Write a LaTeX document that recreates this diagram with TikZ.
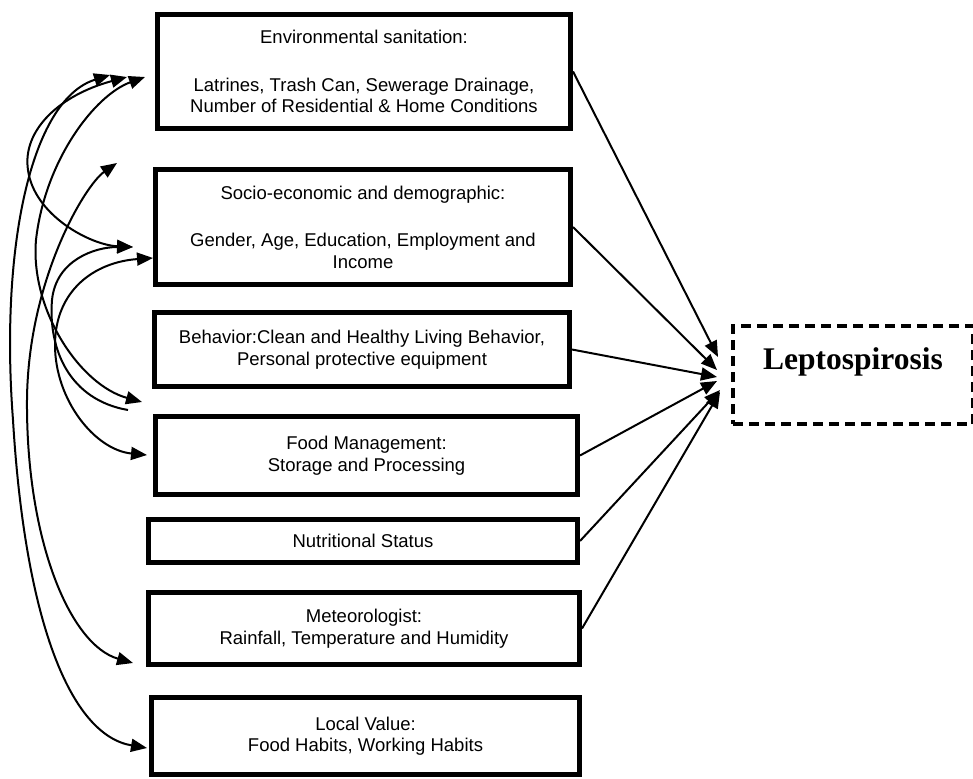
\documentclass[tikz,border=0pt]{standalone}
\usepackage{fontspec}
\setmainfont{Liberation Sans}
\newfontfamily\leptofont{Liberation Serif}
\usetikzlibrary{arrows.meta}

\begin{document}
\begin{tikzpicture}[x=1pt,y=-1pt,
  box/.style={draw, line width=5pt, inner sep=0pt, align=center,
    font=\fontsize{18.5}{21.5}\selectfont},
  link/.style={line width=2pt, -{Triangle[length=16pt,width=13pt]}},
  twoway/.style={line width=2pt,
    {Triangle[length=16pt,width=13pt]}-{Triangle[length=16pt,width=13pt]}}]
  \useasboundingbox (0,0) rectangle (973,778);

  % factor boxes
  \node[box, minimum width=413pt, minimum height=114pt] (env) at (364,71.5)
    {Environmental sanitation:\\[26pt] Latrines, Trash Can, Sewerage Drainage,\\ Number of Residential \& Home Conditions};
  \node[box, minimum width=415pt, minimum height=115pt] (soc) at (363,227)
    {Socio-economic and demographic:\\[26pt] Gender, Age, Education, Employment and\\ Income};
  \node[box, minimum width=415pt, minimum height=74pt] (beh) at (362,349.5)
    {Behavior:Clean and Healthy Living Behavior,\\ Personal protective equipment};
  \node[box, minimum width=422pt, minimum height=78pt] (food) at (366.5,455.5)
    {Food Management:\\ Storage and Processing};
  \node[box, minimum width=429pt, minimum height=43pt] (nut) at (363,541)
    {Nutritional Status};
  \node[box, minimum width=431pt, minimum height=72pt] (met) at (364,628.5)
    {Meteorologist:\\ Rainfall, Temperature and Humidity};
  \node[box, minimum width=428pt, minimum height=77pt] (loc) at (365.5,736)
    {Local Value:\\ Food Habits, Working Habits};

  % outcome
  \node[draw, line width=4pt, dash pattern=on 10pt off 6pt, inner sep=0pt,
    minimum width=240pt, minimum height=98pt, text height=43pt, text depth=55pt,
    font=\leptofont\bfseries\fontsize{31.5}{36}\selectfont] (lepto) at (853,375) {Leptospirosis};

  % arrow ends on the left
  \coordinate (ea) at (110,75);
  \coordinate (eb) at (127,77);
  \coordinate (ec) at (145,77);
  \coordinate (ga) at (117,163);
  \coordinate (sa) at (133,247);
  \coordinate (sb) at (153,258);
  \coordinate (ba) at (142,402);
  \coordinate (bb) at (128,410);
  \coordinate (fa) at (147,455);
  \coordinate (ma) at (133,663);
  \coordinate (la) at (147,748);

  \draw[twoway] (ea) .. controls (30,100) and (0,250) .. (13,420) .. controls (25,620) and (70,735) .. (la);
  \draw[twoway] (ga) .. controls (85,185) and (28,280) .. (27,400) .. controls (26,540) and (70,645) .. (ma);
  \draw[twoway] (eb) .. controls (60,95) and (22,130) .. (28,170) .. controls (34,215) and (90,245) .. (sa);
  \draw[twoway] (ec) .. controls (95,95) and (45,160) .. (36,240) .. controls (30,310) and (80,385) .. (ba);
  \draw[link] (bb) .. controls (70,400) and (48,350) .. (52,300) .. controls (56,260) and (95,247) .. (sa);
  \draw[twoway] (sb) .. controls (95,262) and (55,290) .. (55,345) .. controls (55,400) and (95,450) .. (fa);

  % arrows into the outcome
  \coordinate (t1) at (718,357);
  \coordinate (t2) at (717,370);
  \coordinate (t3) at (717,377);
  \coordinate (t4) at (717,381);
  \coordinate (t5) at (720,390);
  \coordinate (t6) at (720,392);
  \draw[link] (env.east) -- (t1);
  \draw[link] (soc.east) -- (t2);
  \draw[link] (beh.east) -- (t3);
  \draw[link] (food.east) -- (t4);
  \draw[link] (nut.east) -- (t5);
  \draw[link] (met.east) -- (t6);
\end{tikzpicture}
\end{document}
